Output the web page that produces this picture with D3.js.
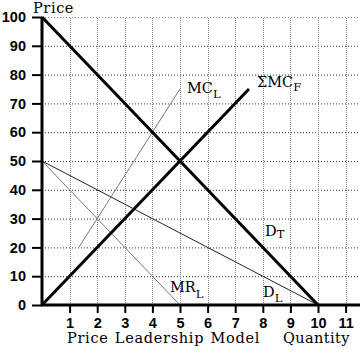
<!DOCTYPE html>
<html>
<head>
<meta charset="utf-8">
<script src="https://cdn.jsdelivr.net/npm/d3@7"></script>
<style>
  body { margin: 0; background: #fff; }
  .tick-lbl { font-family: "Liberation Sans Narrow", "Arial Narrow", "Liberation Sans", sans-serif; font-weight: bold; }
  .serif { font-family: "DejaVu Serif", "Liberation Serif", serif; fill: #000; }
</style>
</head>
<body>
<div id="chart"></div>
<script>
// Price leadership model
var quantityTicks = [1, 2, 3, 4, 5, 6, 7, 8, 9, 10, 11];
var priceTicks = [0, 10, 20, 30, 40, 50, 60, 70, 80, 90, 100];

var demandTotal = [[0, 100], [10, 0]];
var sumMCF = [[0, 0], [7.5, 75]];
var mcLeader = [[1.333, 20], [5, 75]];
var mrLeader = [[0, 50], [5, 0]];
var demandLeader = [[0, 50], [10, 0]];

var width = 360, height = 352;

var svg = d3.select("#chart").append("svg")
    .attr("width", width)
    .attr("height", height);

var x = d3.scaleLinear().domain([0, 11]).range([42, 345.6]);
var y = d3.scaleLinear().domain([0, 100]).range([305, 17]);

// grid
svg.append("g")
  .selectAll("line")
  .data(priceTicks.slice(1))
  .enter().append("line")
    .attr("x1", x(0)).attr("x2", 358)
    .attr("y1", function(d) { return y(d) + 0.5; })
    .attr("y2", function(d) { return y(d) + 0.5; })
    .attr("stroke", function(d) { return d == 100 ? "#888" : "#333"; })
    .attr("stroke-width", 1)
    .attr("stroke-dasharray", "1,2");

svg.append("g")
  .selectAll("line")
  .data(quantityTicks)
  .enter().append("line")
    .attr("x1", function(d) { return Math.round(x(d)) + 0.5; })
    .attr("x2", function(d) { return Math.round(x(d)) + 0.5; })
    .attr("y1", y(0)).attr("y2", y(100))
    .attr("stroke", "#888")
    .attr("stroke-width", 1)
    .attr("stroke-dasharray", "1,1");

// curves
var line = d3.line()
    .x(function(d) { return x(d[0]); })
    .y(function(d) { return y(d[1]); });

var curves = [
  {pts: mrLeader, color: "#777", w: 1},
  {pts: demandLeader, color: "#222", w: 1},
  {pts: mcLeader, color: "#777", w: 1},
  {pts: demandTotal, color: "#000", w: 3},
  {pts: sumMCF, color: "#000", w: 3}
];

svg.append("g")
  .selectAll("path")
  .data(curves)
  .enter().append("path")
    .attr("d", function(d) { return line(d.pts); })
    .attr("fill", "none")
    .attr("stroke", function(d) { return d.color; })
    .attr("stroke-width", function(d) { return d.w; });

// axes
var yAxis = d3.axisLeft(y).tickValues(priceTicks).tickSize(10).tickPadding(6);
var gy = svg.append("g")
    .attr("transform", "translate(" + x(0) + ",0)")
    .call(yAxis);
gy.select(".domain").remove();
gy.selectAll(".tick line").attr("stroke", "#000").attr("stroke-width", 2);
gy.selectAll(".tick text")
    .attr("class", "tick-lbl")
    .attr("font-size", 14.5)
    .attr("fill", "#000");

var xAxis = d3.axisBottom(x).tickValues(quantityTicks).tickSize(8).tickPadding(5);
var gx = svg.append("g")
    .attr("transform", "translate(0," + y(0) + ")")
    .call(xAxis);
gx.select(".domain").remove();
gx.selectAll(".tick line").attr("stroke", "#000").attr("stroke-width", 2);
gx.selectAll(".tick text")
    .attr("class", "tick-lbl")
    .attr("font-size", 14.5)
    .attr("fill", "#000");

svg.append("line")
    .attr("x1", x(0)).attr("x2", x(0))
    .attr("y1", y(100)).attr("y2", y(0) + 1)
    .attr("stroke", "#000").attr("stroke-width", 3);
svg.append("line")
    .attr("x1", x(0) - 1).attr("x2", 360)
    .attr("y1", y(0)).attr("y2", y(0))
    .attr("stroke", "#000").attr("stroke-width", 3);

// labels
function label(px, py, main, sub, dy, ls, ws) {
  var t = svg.append("text")
      .attr("class", "serif")
      .attr("x", px).attr("y", py)
      .attr("font-size", 14.5)
      .attr("letter-spacing", ls || 0)
      .attr("word-spacing", ws || 0);
  t.append("tspan").text(main);
  if (sub) {
    t.append("tspan").attr("dy", dy).attr("font-size", 11.5).text(sub);
  }
}

label(33, 13, "Price", null, 0, 0.6);
label(187, 93, "MC", "L", 5);
label(257, 87, "\u03A3MC", "F", 4);
label(265, 236, "D", "T", 2);
label(170, 292, "MR", "L", 6);
label(263, 297, "D", "L", 5);
label(67, 343, "Price Leadership Model", null, 0, 0.7, 1);
label(283, 343, "Quantity", null, 0, 0.4);
</script>
</body>
</html>
